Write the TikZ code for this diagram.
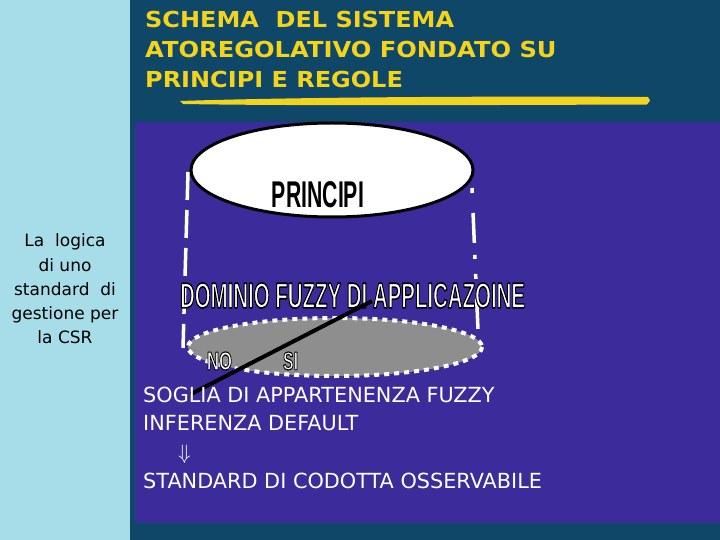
\documentclass[tikz,border=0pt]{standalone}
\usepackage{fontspec}
\setmainfont{DejaVu Sans}
\newfontfamily\impactfont{Liberation Sans}[BoldFont={Liberation Sans Bold}]
\definecolor{leftblue}{HTML}{A6DDE8}
\definecolor{teal}{HTML}{0E4767}
\definecolor{panel}{HTML}{3C2B9A}
\definecolor{ttl}{HTML}{F4D31C}
\definecolor{midgray}{HTML}{8E8E8E}
\newcommand\outlinedtxt[2]{{\color{white}\special{pdf:literal direct 2 Tr 0 0 0 RG 1 j #1 w}#2\special{pdf:literal direct 0 Tr}}}
\tikzset{
  titletext/.style={anchor=base west,text=ttl,font=\bfseries\fontsize{22}{22}\selectfont,inner sep=0},
  lefttext/.style={anchor=base,text=black,font=\fontsize{17}{17}\selectfont,inner sep=0},
  bodytext/.style={anchor=base west,text=white,font=\fontsize{20.8}{20.8}\selectfont,inner sep=0},
  imp/.style={inner sep=0,font=\impactfont\bfseries},
}
\begin{document}
\begin{tikzpicture}[x=1pt,y=-1pt]
\useasboundingbox (0,0) rectangle (720,540);
\fill[teal] (0,0) rectangle (720,540);
\fill[leftblue] (0,0) rectangle (130,540);
\fill[panel] (135,122) rectangle (720,523);
% title underline brush stroke
\fill[ttl] (180,101) .. controls (300,97) and (500,96) .. (648,97) -- (650,100.5) -- (647,104.5) .. controls (500,105) and (300,106) .. (183,104) -- cycle;
\node[titletext] (t1) at (145,28) {\scalebox{1.09}[1]{SCHEMA\ \ DEL SISTEMA}};
\node[titletext] (t2) at (145,58) {\scalebox{1.1}[1]{ATOREGOLATIVO FONDATO SU}};
\node[titletext] (t3) at (145,88) {\scalebox{1.09}[1]{PRINCIPI E REGOLE}};
% left text
\node[lefttext] (l1) at (65,247) {La\ \ logica};
\node[lefttext] (l2) at (65,271) {di uno};
\node[lefttext] (l3) at (65,295) {standard\ \ di};
\node[lefttext] (l4) at (65,319) {gestione per};
\node[lefttext] (l5) at (65,343) {la CSR};
% dashed side lines
\draw[white,line width=3.5pt,dash pattern=on 28pt off 10pt] (188,172) -- (183,348);
\draw[white,line width=3.5pt,dash pattern=on 5pt off 20pt on 30pt off 12pt on 4pt off 15pt] (472,188) -- (478,330);
% top ellipse
\draw[black,fill=white,line width=3pt] (332,170) ellipse [x radius=141,y radius=47];
\node[imp,text=black] (princ) at (318,195) {\resizebox{92pt}{26pt}{PRINCIPI}};
% gray ellipse
\fill[midgray] (335,347) ellipse [x radius=147,y radius=29];
\draw[white,line width=4pt,dash pattern=on 5pt off 5pt] (335,347) ellipse [x radius=147,y radius=29];
\node[imp] (dom) at (352.5,295.5) {\resizebox{345pt}{25pt}{\outlinedtxt{0.45}{DOMINIO FUZZY DI APPLICAZOINE}}};
\node[imp] (no) at (219.5,361) {\resizebox{25pt}{18pt}{\outlinedtxt{0.45}{NO}}};
\node[imp] (si) at (290.5,361) {\resizebox{15pt}{18pt}{\outlinedtxt{0.45}{SI}}};
% black threshold line
\coordinate (la) at (191,394);
\coordinate (lb) at (372,301);
\draw[black,line width=4pt] (la) -- (lb);
% body text
\node[bodytext] (b1) at (143,402) {SOGLIA DI APPARTENENZA FUZZY};
\node[bodytext] (b2) at (143,430) {INFERENZA DEFAULT};
\node[bodytext] (b3) at (178,459) {$\Downarrow$};
\node[bodytext] (b4) at (143,488) {STANDARD DI CODOTTA OSSERVABILE};
\end{tikzpicture}
\end{document}
